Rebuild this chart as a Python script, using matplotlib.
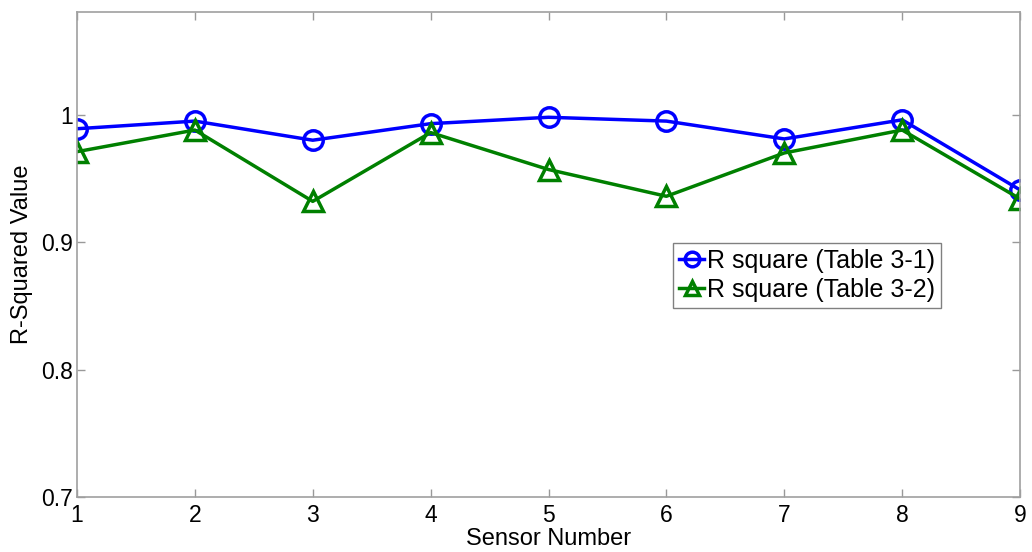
import matplotlib
matplotlib.use("Agg")
import matplotlib.pyplot as plt

sensors = [1, 2, 3, 4, 5, 6, 7, 8, 9]
r2_table31 = [0.989, 0.995, 0.980, 0.993, 0.998, 0.995, 0.981, 0.996, 0.941]
r2_table32 = [0.971, 0.988, 0.932, 0.986, 0.957, 0.936, 0.970, 0.988, 0.934]
yticks = [0.7, 0.8, 0.9, 1.0]
yticklabels = ["0.7", "0.8", "0.9", "1"]

plt.rcParams['font.family'] = ['Liberation Sans', 'DejaVu Sans']

fig = plt.figure(figsize=(10.32, 5.52), dpi=100)
ax = fig.add_axes([0.0746, 0.0996, 0.9138, 0.8784])

ax.plot(sensors, r2_table31, color='#0000ff', lw=2.5, marker='o', ms=14,
        mfc='none', mew=2.5, label='R square (Table 3-1)')
ax.plot(sensors, r2_table32, color='#008000', lw=2.5, marker='^', ms=14,
        mfc='none', mew=2.5, label='R square (Table 3-2)')

ax.set_xlim(1, 9)
ax.set_ylim(0.7, 1.0805)
ax.set_xticks(sensors)
ax.set_yticks(yticks)
ax.set_yticklabels(yticklabels)
ax.tick_params(direction='in', top=True, right=True, length=6, width=1,
               color='#999999', labelsize=16.5)
ax.tick_params(axis='x', pad=5)
ax.tick_params(axis='y', pad=3)
for s in ax.spines.values():
    s.set_color('#a0a0a0')
    s.set_linewidth(1.2)

ax.set_xlabel('Sensor Number', fontsize=17, labelpad=1)
ax.set_ylabel('R-Squared Value', fontsize=17, labelpad=6)

leg = ax.legend(loc='upper left', bbox_to_anchor=(0.632, 0.524), fontsize=18,
                handlelength=1.0, handletextpad=0.1, borderpad=0.25,
                labelspacing=0.2, fancybox=False, framealpha=1,
                borderaxespad=0, markerscale=0.75)
leg.get_frame().set_edgecolor('#808080')
leg.get_frame().set_linewidth(1)

fig.savefig('out.png', dpi=100)
